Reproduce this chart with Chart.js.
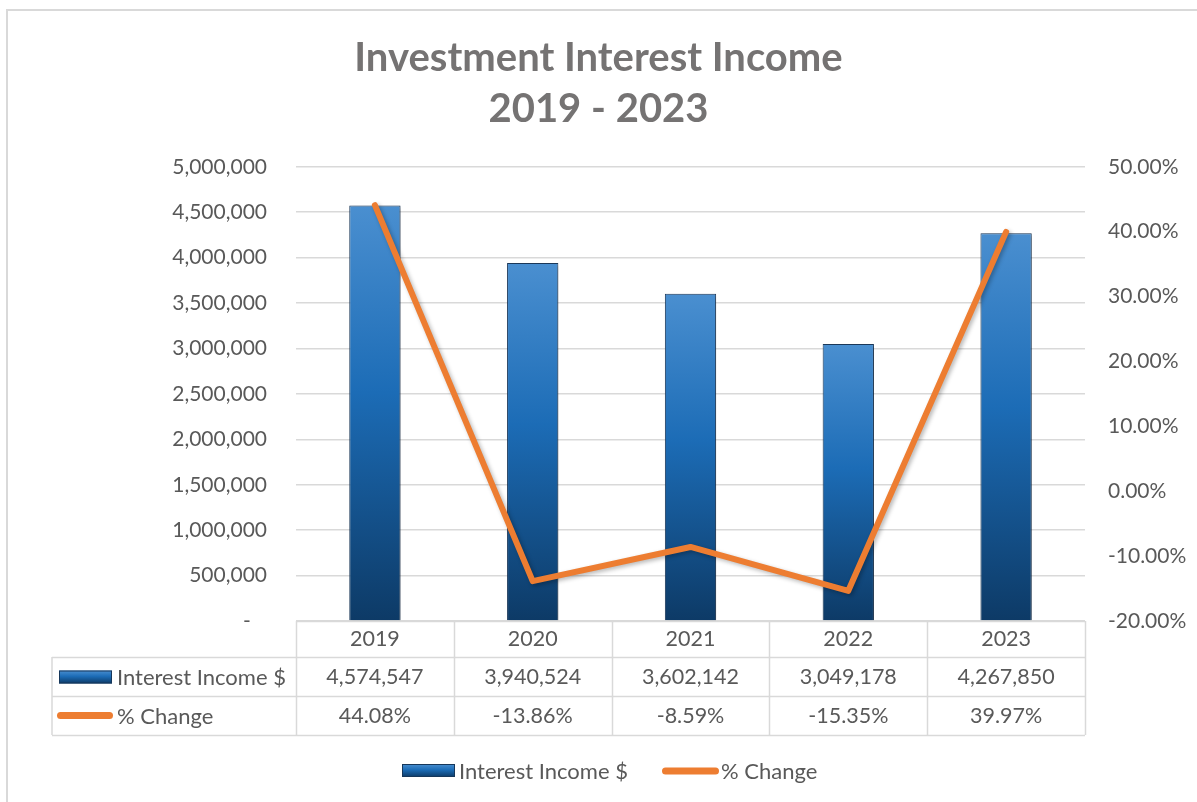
<!DOCTYPE html>
<html>
<head>
<meta charset="utf-8">
<title>Investment Interest Income 2019 - 2023</title>
<script src="https://cdn.jsdelivr.net/npm/chart.js@4.4.1/dist/chart.umd.min.js"></script>
<style>
  html, body { margin: 0; padding: 0; background: #fff; }
  #wrap { width: 1197px; height: 802px; }
</style>
</head>
<body>
<div id="wrap"><canvas id="chart" width="1197" height="802"></canvas></div>
<script>
// Yearly figures
const years = ["2019", "2020", "2021", "2022", "2023"];
const interestIncome = [4574547, 3940524, 3602142, 3049178, 4267850];
const pctChange = [44.08, -13.86, -8.59, -15.35, 39.97];

// Axis ranges / tick steps
const incomeTicks = { min: 0, max: 5000000, step: 500000 };
const pctTicks = { min: -20, max: 50, step: 10 };

const FONT = "Lato, 'Open Sans', sans-serif";
const TEXT_GRAY = "#595959";
const LINE_GRAY = "#d9d9d9";
const ORANGE = "#ed7d31";

const fmtIncome = (v) => v.toLocaleString("en-US");
const fmtPct = (v) => v.toFixed(2) + "%";

// vertical blue gradient between two y pixels (light top, navy bottom)
function barGradient(ctx, top, bottom) {
  const g = ctx.createLinearGradient(0, top, 0, bottom);
  g.addColorStop(0, "#4a8fd0");
  g.addColorStop(0.45, "#1c6cb6");
  g.addColorStop(1, "#0d3a66");
  return g;
}

function drawBarSwatch(ctx, x, y, w, h) {
  ctx.fillStyle = barGradient(ctx, y, y + h);
  ctx.fillRect(x, y, w, h);
  ctx.strokeStyle = "#16375a";
  ctx.lineWidth = 1;
  ctx.strokeRect(x + 0.5, y + 0.5, w - 1, h - 1);
}

function drawLineSwatch(ctx, x1, x2, y) {
  ctx.strokeStyle = ORANGE;
  ctx.lineWidth = 7;
  ctx.lineCap = "round";
  ctx.beginPath();
  ctx.moveTo(x1 + 3.5, y);
  ctx.lineTo(x2 - 3.5, y);
  ctx.stroke();
}

// frame + data table under the plot + bottom legend
const tablePlugin = {
  id: "dataTable",
  beforeDraw(chart) {
    const ctx = chart.ctx;
    ctx.save();
    ctx.fillStyle = "#fff";
    ctx.fillRect(0, 0, chart.width, chart.height);
    ctx.strokeStyle = LINE_GRAY;
    ctx.lineWidth = 2;
    ctx.strokeRect(7, 10, chart.width + 20, chart.height + 20);
    ctx.restore();
  },
  beforeDatasetsDraw(chart) {
    const ctx = chart.ctx;
    ctx.save();
    ctx.shadowColor = "rgba(0,0,0,0.28)";
    ctx.shadowBlur = 4;
    ctx.shadowOffsetX = 2;
    ctx.shadowOffsetY = 2;
  },
  afterDatasetsDraw(chart) {
    chart.ctx.restore();
  },
  afterDraw(chart) {
    const ctx = chart.ctx;
    const xs = chart.scales.x;
    const area = chart.chartArea;
    const n = years.length;
    const cw = (area.right - area.left) / n;
    const top = area.bottom;
    const r1 = top + 36, r2 = r1 + 39, r3 = r2 + 39;
    const labelLeft = 52;

    ctx.save();
    ctx.strokeStyle = LINE_GRAY;
    ctx.lineWidth = 1.5;
    ctx.beginPath();
    for (let i = 0; i <= n; i++) {
      const x = Math.round(area.left + i * cw) + 0.5;
      ctx.moveTo(x, top);
      ctx.lineTo(x, r3);
    }
    ctx.moveTo(labelLeft, r1); ctx.lineTo(labelLeft, r3);
    [r1, r2, r3].forEach((y) => {
      ctx.moveTo(labelLeft, y + 0.5);
      ctx.lineTo(area.right, y + 0.5);
    });
    ctx.moveTo(area.left, top + 0.5); ctx.lineTo(area.right, top + 0.5);
    ctx.stroke();

    ctx.font = "21.5px " + FONT;
    ctx.fillStyle = TEXT_GRAY;
    ctx.textBaseline = "middle";
    ctx.textAlign = "center";
    const y1 = (r1 + r2) / 2, y2 = (r2 + r3) / 2;
    for (let i = 0; i < n; i++) {
      const cx = xs.getPixelForValue(i);
      ctx.fillText(fmtIncome(interestIncome[i]), cx, y1 + 1);
      ctx.fillText(fmtPct(pctChange[i]), cx, y2 + 1);
    }

    // row headers
    ctx.font = "22px " + FONT;
    drawBarSwatch(ctx, 59, y1 - 6, 53, 13);
    drawLineSwatch(ctx, 57, 113, y2);
    ctx.fillStyle = TEXT_GRAY;
    ctx.textAlign = "left";
    ctx.fillText(chart.data.datasets[1].label, 117, y1 + 1);
    ctx.fillText(chart.data.datasets[0].label, 117, y2 + 1);

    // legend
    const ly = 771;
    drawBarSwatch(ctx, 402, ly - 7, 53, 13);
    drawLineSwatch(ctx, 662, 719, ly);
    ctx.fillStyle = TEXT_GRAY;
    ctx.fillText(chart.data.datasets[1].label, 459, ly + 1);
    ctx.fillText(chart.data.datasets[0].label, 721, ly + 1);
    ctx.restore();
  }
};

new Chart(document.getElementById("chart"), {
  data: {
    labels: years,
    datasets: [
      {
        type: "line",
        label: "% Change",
        data: pctChange,
        yAxisID: "yPct",
        borderColor: ORANGE,
        backgroundColor: ORANGE,
        borderWidth: 6,
        borderJoinStyle: "round",
        borderCapStyle: "round",
        pointRadius: 0,
        tension: 0,
        order: 0,
      },
      {
        type: "bar",
        label: "Interest Income $",
        data: interestIncome,
        yAxisID: "y",
        backgroundColor: (c) => {
          const chart = c.chart;
          if (!chart.chartArea || c.dataIndex === undefined) return "#1c6cb6";
          const y = chart.scales.y;
          return barGradient(chart.ctx, y.getPixelForValue(c.raw), y.getPixelForValue(0));
        },
        borderColor: "#1c3a5c",
        borderWidth: 1,
        barPercentage: 0.325,
        categoryPercentage: 1,
        order: 1,
      },
    ],
  },
  options: {
    responsive: false,
    animation: false,
    layout: { padding: 0 },
    plugins: {
      legend: { display: false },
      tooltip: { enabled: false },
      title: {
        display: true,
        text: ["Investment Interest Income", "2019 - 2023"],
        color: "#757373",
        font: { family: FONT, size: 40, weight: "bold", lineHeight: 1.26 },
        padding: { top: 33, bottom: 33 },
      },
    },
    scales: {
      x: {
        grid: { display: false, drawTicks: false },
        border: { display: false },
        ticks: { color: TEXT_GRAY, font: { family: FONT, size: 21.5 }, padding: 5 },
        afterFit: (s) => { s.height = 181; },
      },
      y: {
        position: "left",
        min: incomeTicks.min,
        max: incomeTicks.max,
        grid: { color: LINE_GRAY, lineWidth: 1.5, drawTicks: false },
        border: { display: false },
        ticks: {
          stepSize: incomeTicks.step,
          padding: 29,
          color: TEXT_GRAY,
          font: { family: FONT, size: 21 },
          callback: (v) => (v === 0 ? "-   " : fmtIncome(v)),
        },
        afterFit: (s) => { s.width = 296; },
      },
      yPct: {
        position: "right",
        min: pctTicks.min,
        max: pctTicks.max,
        grid: { drawOnChartArea: false, drawTicks: false },
        border: { display: false },
        ticks: {
          stepSize: pctTicks.step,
          padding: 23,
          color: TEXT_GRAY,
          font: { family: FONT, size: 21 },
          callback: (v) => fmtPct(v),
        },
        afterFit: (s) => { s.width = 112; },
      },
    },
  },
  plugins: [tablePlugin],
});
</script>
</body>
</html>
